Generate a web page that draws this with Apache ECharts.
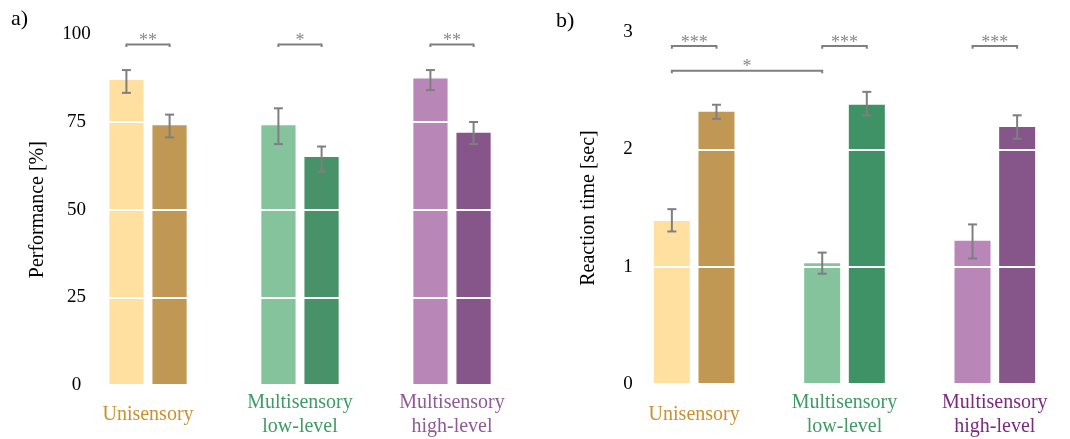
<!DOCTYPE html>
<html>
<head>
<meta charset="utf-8">
<script src="https://cdn.jsdelivr.net/npm/echarts@6/dist/echarts.min.js"></script>
<style>html,body{margin:0;padding:0;background:#fff;}#c{width:1070px;height:439px;}</style>
</head>
<body>
<div id="c"></div>
<script>
// ---- data ----
var categories = ['Unisensory', 'Multisensory\nlow-level', 'Multisensory\nhigh-level'];
var perfTicks = [0, 25, 50, 75, 100];
var rtTicks = [0, 1, 2, 3];

var perfFirst = [87.0, 74.1, 87.4];
var perfSecond = [74.1, 65.0, 71.9];
var perfFirstErr = [[83.3, 89.8], [68.7, 78.9], [84.1, 89.8]];
var perfSecondErr = [[70.6, 77.1], [60.8, 68.0], [68.7, 75.0]];

var rtFirst = [1.39, 1.03, 1.22];
var rtSecond = [2.32, 2.38, 2.19];
var rtFirstErr = [[1.30, 1.49], [0.94, 1.12], [1.07, 1.36]];
var rtSecondErr = [[2.26, 2.38], [2.29, 2.49], [2.09, 2.29]];

// significance: [startCategory, startSide(-1 first bar / 1 second bar), endCategory, endSide, level]
var perfSig = [[0, -1, 0, 1, 97.1], [1, -1, 1, 1, 97.1], [2, -1, 2, 1, 97.1]];
var perfSigLabels = ['**', '*', '**'];
var rtSig = [[0, -1, 0, 1, 2.88], [1, -1, 1, 1, 2.88], [2, -1, 2, 1, 2.88], [0, -1, 1, -1, 2.67]];
var rtSigLabels = ['***', '***', '***', '*'];

// ---- styles ----
var lightColors = ['#FFE0A0', '#84C39C', '#B886B7'];
var darkColorsA = ['#C09853', '#479268', '#86558A'];
var darkColorsB = ['#C09853', '#3E9265', '#86558A'];
var labelColorsA = ['#C8912F', '#3E9A67', '#8E5A95'];
var labelColorsB = ['#C8912F', '#3E9A67', '#7A2A7E'];
var FONT = '"Liberation Serif", "Times New Roman", serif';
var GRAY = '#7f7f7f';

function colored(vals, cols) {
  return vals.map(function (v, i) { return { value: v, itemStyle: { color: cols[i] } }; });
}
function errData(errs) {
  return errs.map(function (e, i) { return [i, e[0], e[1]]; });
}
function errRender(side, off) {
  return function (params, api) {
    var lo = api.coord([api.value(0), api.value(1)]);
    var hi = api.coord([api.value(0), api.value(2)]);
    var x = lo[0] + side * off;
    var st = { stroke: GRAY, lineWidth: 2 };
    return { type: 'group', children: [
      { type: 'line', shape: { x1: x, y1: lo[1], x2: x, y2: hi[1] }, style: st },
      { type: 'line', shape: { x1: x - 4.5, y1: lo[1], x2: x + 4.5, y2: lo[1] }, style: st },
      { type: 'line', shape: { x1: x - 4.5, y1: hi[1], x2: x + 4.5, y2: hi[1] }, style: st }
    ] };
  };
}
function sigRender(labels, off, tick) {
  return function (params, api) {
    var c0 = api.coord([api.value(0), api.value(4)]);
    var c1 = api.coord([api.value(2), api.value(4)]);
    var x0 = c0[0] + api.value(1) * off;
    var x1 = c1[0] + api.value(3) * off;
    var y = c0[1];
    return { type: 'group', children: [
      { type: 'polyline', shape: { points: [[x0, y + tick], [x0, y], [x1, y], [x1, y + tick]] },
        style: { stroke: GRAY, lineWidth: 2, fill: null } },
      { type: 'text', style: { text: labels[params.dataIndex], x: (x0 + x1) / 2, y: y - 3,
        align: 'center', verticalAlign: 'middle', fill: '#888', font: '18px ' + FONT } }
    ] };
  };
}

var chart = echarts.init(document.getElementById('c'), null, { renderer: 'canvas' });
var option = {
  animation: false,
  backgroundColor: '#fff',
  graphic: [
    { type: 'text', left: 11, top: 8, style: { text: 'a)', font: '22px ' + FONT, fill: '#000' } },
    { type: 'text', left: 556, top: 10, style: { text: 'b)', font: '22px ' + FONT, fill: '#000' } }
  ],
  grid: [
    { left: 72, top: 34.3, width: 456, height: 350.7 },
    { left: 619, top: 32, width: 474, height: 352 }
  ],
  xAxis: [0, 1].map(function (g) {
    var cols = g === 0 ? labelColorsA : labelColorsB;
    return {
      type: 'category', gridIndex: g, data: categories,
      axisLine: { show: false }, axisTick: { show: false },
      axisLabel: {
        margin: g === 0 ? 30 : 31, verticalAlign: 'middle', lineHeight: 24,
        fontFamily: FONT, fontSize: 20, interval: 0,
        color: function (v, i) { return cols[i]; }
      }
    };
  }),
  yAxis: [
    { type: 'value', gridIndex: 0, min: perfTicks[0], max: perfTicks[perfTicks.length - 1], interval: 25, z: 3,
      name: 'Performance [%]', nameLocation: 'middle', nameGap: 24.5,
      nameTextStyle: { fontFamily: FONT, fontSize: 20, color: '#000' },
      axisLine: { show: false }, axisTick: { show: false },
      axisLabel: { margin: -4.5, align: 'center', fontFamily: FONT, fontSize: 19, color: '#000' },
      splitLine: { show: true, lineStyle: { color: '#fff', width: 2 } } },
    { type: 'value', gridIndex: 1, min: rtTicks[0], max: rtTicks[rtTicks.length - 1], interval: 1, z: 3,
      name: 'Reaction time [sec]', nameLocation: 'middle', nameGap: 20.3,
      nameTextStyle: { fontFamily: FONT, fontSize: 20, color: '#000' },
      axisLine: { show: false }, axisTick: { show: false },
      axisLabel: { margin: -9, align: 'center', fontFamily: FONT, fontSize: 19, color: '#000' },
      splitLine: { show: true, lineStyle: { color: '#fff', width: 2 } } }
  ],
  series: [
    { type: 'bar', xAxisIndex: 0, yAxisIndex: 0, barWidth: 34.2, barGap: '26%', z: 2,
      data: colored(perfFirst, lightColors) },
    { type: 'bar', xAxisIndex: 0, yAxisIndex: 0, barWidth: 34.2, barGap: '26%', z: 2,
      data: colored(perfSecond, darkColorsA) },
    { type: 'bar', xAxisIndex: 1, yAxisIndex: 1, barWidth: 36, barGap: '24%', z: 2,
      data: colored(rtFirst, lightColors) },
    { type: 'bar', xAxisIndex: 1, yAxisIndex: 1, barWidth: 36, barGap: '24%', z: 2,
      data: colored(rtSecond, darkColorsB) },
    { type: 'custom', xAxisIndex: 0, yAxisIndex: 0, z: 5, encode: { x: 0, y: [1, 2] },
      renderItem: errRender(-1, 21.6), data: errData(perfFirstErr) },
    { type: 'custom', xAxisIndex: 0, yAxisIndex: 0, z: 5, encode: { x: 0, y: [1, 2] },
      renderItem: errRender(1, 21.6), data: errData(perfSecondErr) },
    { type: 'custom', xAxisIndex: 1, yAxisIndex: 1, z: 5, encode: { x: 0, y: [1, 2] },
      renderItem: errRender(-1, 22.3), data: errData(rtFirstErr) },
    { type: 'custom', xAxisIndex: 1, yAxisIndex: 1, z: 5, encode: { x: 0, y: [1, 2] },
      renderItem: errRender(1, 22.3), data: errData(rtSecondErr) },
    { type: 'custom', xAxisIndex: 0, yAxisIndex: 0, z: 5, clip: false, encode: { x: [0, 2], y: 4 },
      renderItem: sigRender(perfSigLabels, 21.6, 2.6), data: perfSig },
    { type: 'custom', xAxisIndex: 1, yAxisIndex: 1, z: 5, clip: false, encode: { x: [0, 2], y: 4 },
      renderItem: sigRender(rtSigLabels, 22.3, 2.6), data: rtSig }
  ]
};
chart.setOption(option);
</script>
</body>
</html>
